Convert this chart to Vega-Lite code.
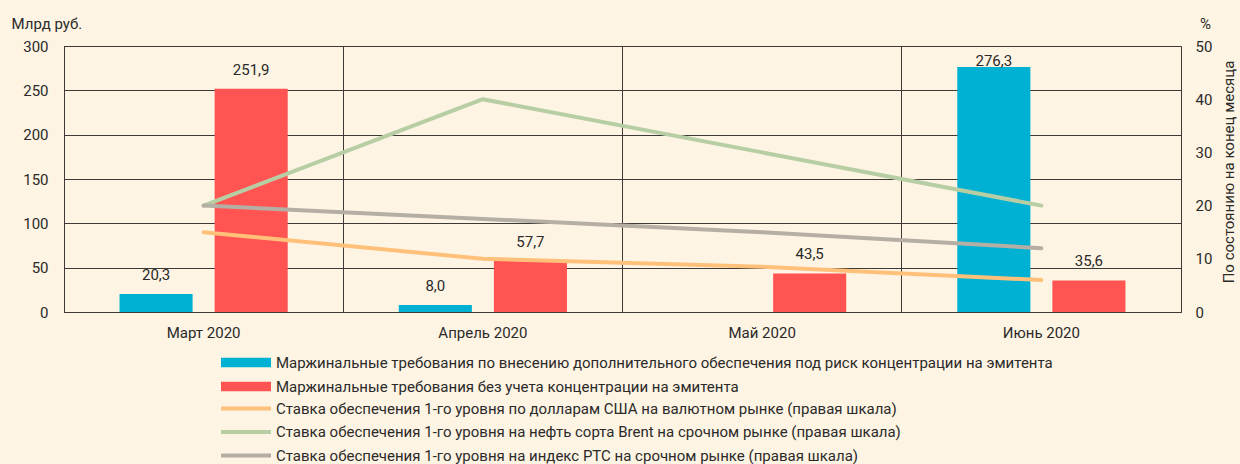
{
  "$schema": "https://vega.github.io/schema/vega-lite/v6.json",
  "width": 1117,
  "height": 266,
  "autosize": {"type": "none"},
  "padding": {"left": 64, "top": 46, "right": 59, "bottom": 152},
  "background": "#fdf4e4",
  "datasets": {
    "bars": [
      {"month": "Март 2020", "series": "Маржинальные требования по внесению дополнительного обеспечения под риск концентрации на эмитента", "value": 20.3},
      {"month": "Март 2020", "series": "Маржинальные требования без учета концентрации на эмитента", "value": 251.9},
      {"month": "Апрель 2020", "series": "Маржинальные требования по внесению дополнительного обеспечения под риск концентрации на эмитента", "value": 8.0},
      {"month": "Апрель 2020", "series": "Маржинальные требования без учета концентрации на эмитента", "value": 57.7},
      {"month": "Май 2020", "series": "Маржинальные требования без учета концентрации на эмитента", "value": 43.5},
      {"month": "Июнь 2020", "series": "Маржинальные требования по внесению дополнительного обеспечения под риск концентрации на эмитента", "value": 276.3},
      {"month": "Июнь 2020", "series": "Маржинальные требования без учета концентрации на эмитента", "value": 35.6}
    ],
    "lines": [
      {"month": "Март 2020", "series": "Ставка обеспечения 1-го уровня по долларам США на валютном рынке (правая шкала)", "rate": 15},
      {"month": "Апрель 2020", "series": "Ставка обеспечения 1-го уровня по долларам США на валютном рынке (правая шкала)", "rate": 10},
      {"month": "Май 2020", "series": "Ставка обеспечения 1-го уровня по долларам США на валютном рынке (правая шкала)", "rate": 8.5},
      {"month": "Июнь 2020", "series": "Ставка обеспечения 1-го уровня по долларам США на валютном рынке (правая шкала)", "rate": 6},
      {"month": "Март 2020", "series": "Ставка обеспечения 1-го уровня на нефть сорта Brent на срочном рынке (правая шкала)", "rate": 20},
      {"month": "Апрель 2020", "series": "Ставка обеспечения 1-го уровня на нефть сорта Brent на срочном рынке (правая шкала)", "rate": 40},
      {"month": "Май 2020", "series": "Ставка обеспечения 1-го уровня на нефть сорта Brent на срочном рынке (правая шкала)", "rate": 30},
      {"month": "Июнь 2020", "series": "Ставка обеспечения 1-го уровня на нефть сорта Brent на срочном рынке (правая шкала)", "rate": 20},
      {"month": "Март 2020", "series": "Ставка обеспечения 1-го уровня на индекс РТС на срочном рынке (правая шкала)", "rate": 20},
      {"month": "Апрель 2020", "series": "Ставка обеспечения 1-го уровня на индекс РТС на срочном рынке (правая шкала)", "rate": 17.5},
      {"month": "Май 2020", "series": "Ставка обеспечения 1-го уровня на индекс РТС на срочном рынке (правая шкала)", "rate": 15},
      {"month": "Июнь 2020", "series": "Ставка обеспечения 1-го уровня на индекс РТС на срочном рынке (правая шкала)", "rate": 12}
    ]
  },
  "layer": [
    {
      "data": {"name": "bars"},
      "encoding": {
        "x": {
          "field": "month", "type": "nominal",
          "sort": ["Март 2020", "Апрель 2020", "Май 2020", "Июнь 2020"],
          "scale": {"paddingInner": 0, "paddingOuter": 0},
          "axis": {"title": null, "labelAngle": 0, "labelPadding": 13, "ticks": false, "domain": false, "grid": true, "bandPosition": 0, "gridColor": "#3d3935", "gridWidth": 1, "gridOpacity": 1}
        },
        "xOffset": {
          "field": "series", "type": "nominal",
          "sort": ["Маржинальные требования по внесению дополнительного обеспечения под риск концентрации на эмитента", "Маржинальные требования без учета концентрации на эмитента"],
          "scale": {"paddingInner": 0.2316, "paddingOuter": 0.584}
        },
        "y": {
          "field": "value", "type": "quantitative",
          "scale": {"domain": [0, 300], "nice": false, "zero": true},
          "axis": {"values": [0, 50, 100, 150, 200, 250, 300], "grid": true, "gridColor": "#3d3935", "gridOpacity": 1, "gridWidth": 1, "ticks": false, "domain": false, "labelPadding": 16, "title": "Млрд руб.", "titleAngle": 0, "titleAlign": "left", "titleBaseline": "alphabetic", "titleX": -53, "titleY": -18}
        }
      },
      "layer": [
        {
          "mark": {"type": "bar"},
          "encoding": {
            "color": {
              "field": "series", "type": "nominal",
              "scale": {
                "domain": ["Маржинальные требования по внесению дополнительного обеспечения под риск концентрации на эмитента", "Маржинальные требования без учета концентрации на эмитента"],
                "range": ["#00b1d3", "#ff5452"]
              },
              "legend": {"orient": "none", "legendX": 174.5, "legendY": 309, "direction": "vertical", "title": null, "symbolType": "M-5,-0.95H5V0.95H-5Z", "symbolSize": 100, "symbolStrokeWidth": 0, "symbolOpacity": 1, "labelOffset": 22.5}
            }
          }
        },
        {
          "transform": [{"filter": "datum.value < 270"}],
          "mark": {"type": "text", "baseline": "alphabetic", "dy": -14, "fontSize": 15, "color": "#2b2a29"},
          "encoding": {"text": {"field": "value", "type": "quantitative", "format": ".1f"}}
        },
        {
          "transform": [{"filter": "datum.value >= 270"}],
          "mark": {"type": "text", "baseline": "alphabetic", "dy": -1, "fontSize": 15, "color": "#2b2a29"},
          "encoding": {"text": {"field": "value", "type": "quantitative", "format": ".1f"}}
        }
      ]
    },
    {
      "data": {"name": "lines"},
      "mark": {"type": "line", "strokeWidth": 4, "strokeCap": "round", "strokeJoin": "round"},
      "encoding": {
        "x": {
          "field": "month", "type": "nominal",
          "sort": ["Март 2020", "Апрель 2020", "Май 2020", "Июнь 2020"],
          "scale": {"paddingInner": 0, "paddingOuter": 0},
          "axis": {"title": null, "labelAngle": 0, "labelPadding": 13, "ticks": false, "domain": false, "grid": true, "bandPosition": 0, "gridColor": "#3d3935", "gridWidth": 1, "gridOpacity": 1}
        },
        "y": {
          "field": "rate", "type": "quantitative",
          "scale": {"domain": [0, 50], "nice": false},
          "axis": {"orient": "right", "values": [0, 10, 20, 30, 40, 50], "grid": false, "ticks": false, "domain": false, "labelPadding": 14, "title": "%", "titleAngle": 0, "titleAlign": "center", "titleBaseline": "alphabetic", "titleX": 24, "titleY": -18}
        },
        "stroke": {
          "field": "series", "type": "nominal",
          "scale": {
            "domain": ["Ставка обеспечения 1-го уровня по долларам США на валютном рынке (правая шкала)", "Ставка обеспечения 1-го уровня на нефть сорта Brent на срочном рынке (правая шкала)", "Ставка обеспечения 1-го уровня на индекс РТС на срочном рынке (правая шкала)"],
            "range": ["#ffc17a", "#b7cea5", "#b5aea4"]
          },
          "legend": {"orient": "none", "legendX": 174.5, "legendY": 355, "direction": "vertical", "title": null, "symbolType": "M-5,0H5", "symbolSize": 100, "symbolStrokeWidth": 4, "labelOffset": 22.5, "rowPadding": 6.5}
        }
      }
    },
    {
      "data": {"name": "lines"},
      "mark": {"type": "text", "text": "", "opacity": 0},
      "encoding": {
        "y": {
          "field": "rate", "type": "quantitative",
          "scale": {"domain": [0, 50], "nice": false},
          "axis": {"orient": "right", "labels": false, "ticks": false, "domain": false, "grid": false, "title": "По состоянию на конец месяца", "titleAngle": 270, "titleAlign": "center", "titleBaseline": "middle", "titleX": 47, "titleY": 125.5}
        }
      }
    }
  ],
  "resolve": {"scale": {"y": "independent"}},
  "config": {
    "font": "Roboto",
    "locale": {"number": {"decimal": ",", "thousands": " ", "grouping": [3], "currency": ["", " ₽"]}},
    "view": {"stroke": "#3d3935", "strokeWidth": 1},
    "axis": {"labelFont": "Roboto", "labelFontSize": 15, "labelColor": "#2b2a29", "titleFont": "Roboto", "titleFontSize": 15, "titleFontWeight": "normal", "titleColor": "#2b2a29"},
    "legend": {"labelFont": "Roboto", "labelFontSize": 15, "labelColor": "#2b2a29", "labelLimit": 0, "padding": 0, "rowPadding": 8, "offset": 0},
    "text": {"font": "Roboto"}
  }
}
